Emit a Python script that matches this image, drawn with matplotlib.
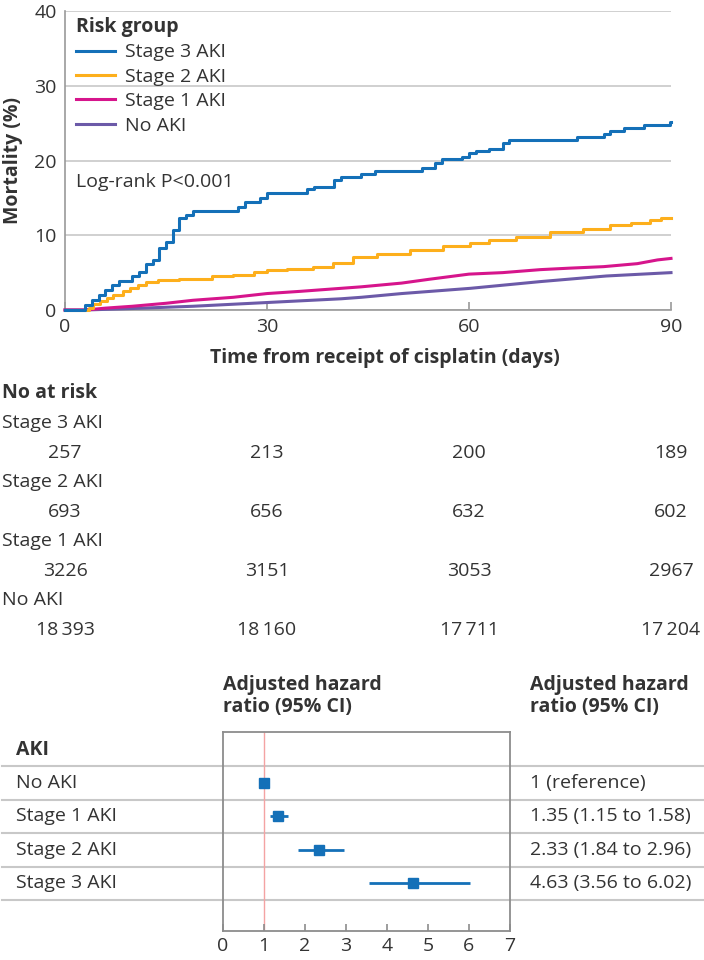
import matplotlib
matplotlib.use("Agg")
import matplotlib.pyplot as plt
import matplotlib.transforms as mtransforms

plt.rcParams['font.family'] = ['Open Sans', 'DejaVu Sans']
plt.rcParams['text.color'] = '#333333'
plt.rcParams['axes.labelcolor'] = '#333333'
plt.rcParams['xtick.color'] = '#333333'
plt.rcParams['ytick.color'] = '#333333'

# Kaplan-Meier style cumulative mortality
days_s3 = [0, 3, 4, 5, 6, 7, 8, 10, 11, 12, 13, 14, 15, 16, 17, 18, 19, 25.7, 26.7, 29, 30,
           36, 37, 40, 41, 44, 46, 53, 55, 56, 59, 60, 61, 63, 65, 66, 76, 80, 81, 83, 86, 89.8, 90]
mort_s3 = [0, 0.7, 1.3, 2.0, 2.7, 3.3, 3.9, 4.5, 5.1, 6.2, 6.7, 8.3, 9.1, 10.7, 12.3, 12.7, 13.3, 13.8, 14.4, 15.0, 15.6,
           16.2, 16.5, 17.4, 17.8, 18.2, 18.6, 19.0, 19.7, 20.2, 20.5, 21.0, 21.3, 21.6, 22.4, 22.8, 23.2, 23.6, 24.0, 24.4, 24.8, 25.1, 25.1]

days_s2 = [0, 3.5, 4.2, 5.2, 6.2, 7.2, 8.6, 9.7, 10.9, 12.1, 13.8, 17, 21.8, 25, 28, 30, 33, 36.9, 39.8, 42.8,
           46.3, 51.3, 56.2, 60.2, 63, 67, 72, 77, 81, 84, 86.9, 88.5, 90]
mort_s2 = [0, 0.3, 0.8, 1.2, 1.6, 2.0, 2.5, 2.9, 3.3, 3.8, 4.0, 4.2, 4.5, 4.7, 5.1, 5.3, 5.5, 5.8, 6.3, 7.1,
           7.5, 8.0, 8.5, 8.9, 9.4, 9.8, 10.5, 10.9, 11.4, 11.7, 12.0, 12.3, 12.3]

days_s1 = [0, 3, 6, 10, 15, 19, 25, 30, 35, 41, 44, 50, 54, 60, 65, 70.6, 75, 80, 85, 88, 90]
mort_s1 = [0, 0, 0.25, 0.5, 0.9, 1.3, 1.7, 2.2, 2.5, 2.9, 3.1, 3.6, 4.1, 4.8, 5.0, 5.4, 5.6, 5.8, 6.2, 6.7, 6.9]

days_no = [0, 3, 10, 19, 30, 41, 44, 50, 60.2, 70.6, 80.4, 90]
mort_no = [0, 0, 0.2, 0.5, 1.0, 1.5, 1.7, 2.2, 2.9, 3.8, 4.55, 5.0]

# number at risk
risk_days = [0, 30, 60, 90]
risk_groups = ["Stage 3 AKI", "Stage 2 AKI", "Stage 1 AKI", "No AKI"]
risk_counts = [["257", "213", "200", "189"],
               ["693", "656", "632", "602"],
               ["3226", "3151", "3053", "2967"],
               ["18\u2009393", "18\u2009160", "17\u2009711", "17\u2009204"]]

# forest plot
hr_groups = ["No AKI", "Stage 1 AKI", "Stage 2 AKI", "Stage 3 AKI"]
hr = [1, 1.35, 2.33, 4.63]
hr_lo = [1, 1.15, 1.84, 3.56]
hr_hi = [1, 1.58, 2.96, 6.02]
hr_text = ["1 (reference)", "1.35 (1.15 to 1.58)", "2.33 (1.84 to 2.96)", "4.63 (3.56 to 6.02)"]

C_S3 = "#1470b8"
C_S2 = "#fdaf1c"
C_S1 = "#d6158c"
C_NO = "#6c5aa8"
GRID = "#c8c8c8"
SPINE = "#999999"
FS = 14

W, H = 704, 960
def fx(px): return px / W
def fy(py): return 1 - py / H

fig = plt.figure(figsize=(W / 100, H / 100), dpi=100)

# ---- survival curves
ax = fig.add_axes([fx(65), fy(310), (671 - 65) / W, (310 - 11) / H])
ax.plot(days_no, mort_no, color=C_NO, lw=2.2, label="No AKI", clip_on=False, zorder=3)
ax.plot(days_s1, mort_s1, color=C_S1, lw=2.2, label="Stage 1 AKI", clip_on=False, zorder=3)
ax.plot(days_s2, mort_s2, color=C_S2, lw=2.2, drawstyle="steps-post", label="Stage 2 AKI", clip_on=False, zorder=4)
ax.plot(days_s3, mort_s3, color=C_S3, lw=2.2, drawstyle="steps-post", label="Stage 3 AKI", clip_on=False, zorder=5)
ax.set_xlim(0, 90)
ax.set_ylim(0, 40)
ax.set_xticks([0, 30, 60, 90])
ax.set_yticks([0, 10, 20, 30, 40])
ax.grid(axis="y", color=GRID, lw=1.2)
ax.set_axisbelow(True)
for s in ["top", "right"]:
    ax.spines[s].set_visible(False)
for s in ["left", "bottom"]:
    ax.spines[s].set_color(SPINE)
    ax.spines[s].set_linewidth(1.2)
ax.tick_params(axis="x", direction="in", length=6, width=1.2, color=SPINE, labelsize=FS, pad=6)
ax.tick_params(axis="y", length=0, labelsize=FS, pad=6)
ax.text(-0.085, 0.5, "Mortality (%)", transform=ax.transAxes, rotation=90,
        ha="center", va="center", fontsize=FS, fontweight="bold")
fig.text(fx(385), fy(358), "Time from receipt of cisplatin (days)", ha="center", va="center",
         fontsize=FS, fontweight="bold")
ax.text(0.018, (310 - 187) / 299, "Log-rank P<0.001", transform=ax.transAxes,
        ha="left", va="baseline", fontsize=FS)

h, l = ax.get_legend_handles_labels()
order = [3, 2, 1, 0]
leg = ax.legend([h[i] for i in order], [l[i] for i in order], loc="upper left",
                bbox_to_anchor=(0.018, 0.98), borderaxespad=0, borderpad=0, frameon=False,
                title="Risk group", alignment="left", fontsize=FS, handlelength=2.0,
                handletextpad=0.5, labelspacing=0.33)
leg.get_title().set_fontweight("bold")
leg.get_title().set_fontsize(FS)

# ---- number at risk table
tr = mtransforms.blended_transform_factory(ax.transData, fig.transFigure)
fig.text(fx(2), fy(393), "No at risk", ha="left", va="center", fontsize=FS, fontweight="bold")
for i, g in enumerate(risk_groups):
    y_lab = 423 + i * 59
    fig.text(fx(2), fy(y_lab), g, ha="left", va="center", fontsize=FS)
    for d, c in zip(risk_days, risk_counts[i]):
        fig.text(d, fy(y_lab + 30), c, transform=tr, ha="center", va="center", fontsize=FS)

# ---- forest plot
box_top, box_bot = 732, 931
row0, row_step = 783, 33.4
ylo = (box_bot - row0) / row_step
yhi = (box_top - row0) / row_step

tab = fig.add_axes([0, fy(box_bot), 1, (box_bot - box_top) / H])
tab.set_xlim(0, 1)
tab.set_ylim(ylo, yhi)
tab.axis("off")
for k in range(len(hr_groups) + 1):
    tab.axhline(k - 0.5, xmin=2 / W, xmax=703 / W, color=GRID, lw=1.5)
tab.text(fx(16), -1, "AKI", ha="left", va="center", fontsize=FS, fontweight="bold")
for i, (g, t) in enumerate(zip(hr_groups, hr_text)):
    tab.text(fx(16), i, g, ha="left", va="center", fontsize=FS)
    tab.text(fx(530), i, t, ha="left", va="center", fontsize=FS)

for x0, t1, t2 in [(223, "Adjusted hazard", "ratio (95% CI)"), (530, "Adjusted hazard", "ratio (95% CI)")]:
    fig.text(fx(x0), fy(690), t1, ha="left", va="baseline", fontsize=FS, fontweight="bold")
    fig.text(fx(x0), fy(712), t2, ha="left", va="baseline", fontsize=FS, fontweight="bold")

fa = fig.add_axes([fx(223), fy(box_bot), (510 - 223) / W, (box_bot - box_top) / H])
fa.set_facecolor("none")
fa.set_xlim(0, 7)
fa.set_ylim(ylo, yhi)
fa.axvline(1, color="#f4a3a3", lw=1, zorder=1)
rows = list(range(len(hr_groups)))
fa.hlines(rows, hr_lo, hr_hi, color=C_S3, lw=2, zorder=3)
fa.plot(hr, rows, "s", color=C_S3, markersize=7.5, zorder=4)
fa.set_xticks(range(0, 8))
fa.set_yticks([])
for s in fa.spines.values():
    s.set_color("#8c8c8c")
    s.set_linewidth(1.3)
fa.tick_params(axis="x", direction="in", length=5, width=1.2, color="#8c8c8c", labelsize=FS, pad=4)

fig.savefig("out.png", dpi=100)
